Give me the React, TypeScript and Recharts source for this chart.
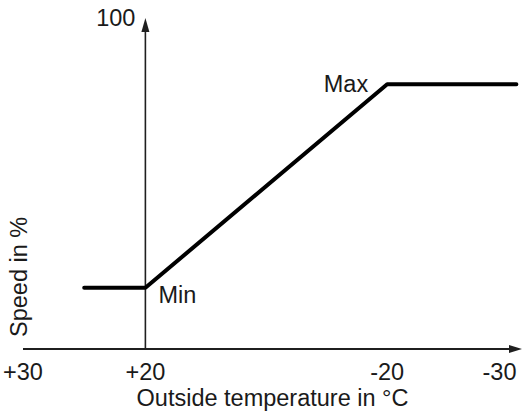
import React from 'react';
import { LineChart, Line, XAxis, YAxis, ReferenceLine, LabelList } from 'recharts';

// ---- data ----
const temperatures = [25, 20, -20, -31.5];
const speedPercent = [18.5, 18.5, 80, 80];
const pointLabels = ['', 'Min', 'Max', ''];
const tickTemps = [30, 20, -20, -30];
const tickLabels = ['+30', '+20', '-20', '-30'];
const speedTopLabel = '100';
const xTitle = 'Outside temperature in °C';
const yTitle = 'Speed in %';

// schematic (non‑proportional) spacing of the labelled temperatures along the axis
const axisKnotSpacing = [0, 122, 363, 475];

const data = temperatures.map((t, i) => ({ temp: t, speed: speedPercent[i], label: pointLabels[i] }));

const FONT = '"Liberation Sans", Arial, Helvetica, sans-serif';
const FS = 23.5;
const TEXT = '#1a1a1a';
const AXIS = '#1f1f1f';

function warp(t: number): number {
  const n = tickTemps.length;
  let i = 0;
  if (t >= tickTemps[0]) i = 0;
  else if (t <= tickTemps[n - 1]) i = n - 2;
  else {
    for (let k = 0; k < n - 1; k++) {
      if (t <= tickTemps[k] && t >= tickTemps[k + 1]) { i = k; break; }
    }
  }
  const t0 = tickTemps[i], t1 = tickTemps[i + 1];
  const u0 = axisKnotSpacing[i], u1 = axisKnotSpacing[i + 1];
  return u0 + ((t - t0) * (u1 - u0)) / (t1 - t0);
}

function makeScale(dom: number[] = [0, 1], rng: number[] = [0, 1]): any {
  const s: any = (v: any) => {
    const a = warp(Number(dom[0]));
    const b = warp(Number(dom[dom.length - 1]));
    if (a === b) return (rng[0] + rng[1]) / 2;
    return rng[0] + ((warp(Number(v)) - a) * (rng[1] - rng[0])) / (b - a);
  };
  s.domain = (d?: any[]) => {
    if (d === undefined) return dom.slice();
    dom = [Number(d[0]), Number(d[d.length - 1])];
    return s;
  };
  s.range = (r?: any[]) => {
    if (r === undefined) return rng.slice();
    rng = [Number(r[0]), Number(r[r.length - 1])];
    return s;
  };
  s.copy = () => makeScale(dom.slice(), rng.slice());
  s.ticks = () => tickTemps.slice();
  s.tickFormat = () => (v: any) => String(v);
  s.nice = () => s;
  s.clamp = () => s;
  s.unknown = () => s;
  return s;
}

const tempScale = makeScale();

const fmtTick = (v: number) => {
  const i = tickTemps.indexOf(v);
  return i >= 0 ? tickLabels[i] : String(v);
};

const HorizontalAxis = (p: any) => {
  const left = Math.min(p.x1, p.x2);
  const right = Math.max(p.x1, p.x2);
  const y = p.y1;
  return (
    <g>
      <line x1={left} y1={y} x2={right - 8} y2={y} stroke={AXIS} strokeWidth={2} />
      <polygon points={`${right},${y} ${right - 13},${y - 4} ${right - 13},${y + 4}`} fill={AXIS} />
    </g>
  );
};

const VerticalAxis = (p: any) => {
  const x = p.x1;
  const top = Math.min(p.y1, p.y2);
  const bottom = Math.max(p.y1, p.y2);
  return (
    <g>
      <line x1={x} y1={bottom} x2={x} y2={top + 8} stroke={AXIS} strokeWidth={1.6} />
      <polygon points={`${x},${top} ${x - 4},${top + 14} ${x + 4},${top + 14}`} fill={AXIS} />
      <text x={x - 10} y={top + 7.5} textAnchor="end" fontSize={FS} fill={TEXT} fontFamily={FONT}>
        {speedTopLabel}
      </text>
    </g>
  );
};

const SpeedTitle = (p: any) => {
  const vb = p.viewBox || {};
  const x = vb.x + vb.width + 4;
  const y = vb.y + vb.height - 12;
  return (
    <text x={x} y={y} transform={`rotate(-90 ${x} ${y})`} textAnchor="start" fontSize={FS} fill={TEXT} fontFamily={FONT}>
      {yTitle}
    </text>
  );
};

const PointLabel = (p: any) => {
  const value = p.value;
  if (!value) return null;
  const x = p.x ?? p.viewBox?.x;
  const y = p.y ?? p.viewBox?.y;
  if (p.index === 1) {
    return (
      <text x={x + 13} y={y + 15.5} textAnchor="start" fontSize={FS} fill={TEXT} fontFamily={FONT}>
        {value}
      </text>
    );
  }
  return (
    <text x={x - 19} y={y + 7.5} textAnchor="end" fontSize={FS} fill={TEXT} fontFamily={FONT}>
      {value}
    </text>
  );
};

export default function App() {
  return (
    <div style={{ position: 'absolute', left: 0, top: 0, width: 529, height: 417, background: '#fff', fontFamily: FONT }}>
      <LineChart width={529} height={417} data={data} margin={{ top: 18, right: 7, bottom: 8, left: 0 }}>
        <XAxis
          dataKey="temp"
          type="number"
          scale={tempScale}
          domain={[-32, 30]}
          reversed
          ticks={tickTemps}
          interval={0}
          tickFormatter={fmtTick}
          axisLine={false}
          tickLine={false}
          tickSize={6}
          tickMargin={8}
          height={60}
          tick={{ fill: TEXT, fontSize: FS, fontFamily: FONT }}
          label={{ value: xTitle, position: 'insideBottom', offset: 3, fill: TEXT, fontSize: FS, fontFamily: FONT }}
        />
        <YAxis
          type="number"
          domain={[0, 100]}
          width={23}
          axisLine={false}
          tickLine={false}
          tick={false}
          label={<SpeedTitle />}
        />
        <ReferenceLine y={0} shape={HorizontalAxis} />
        <ReferenceLine x={20} shape={VerticalAxis} />
        <Line
          type="linear"
          dataKey="speed"
          stroke="#000"
          strokeWidth={4}
          strokeLinecap="round"
          strokeLinejoin="round"
          dot={false}
          activeDot={false}
          isAnimationActive={false}
        >
          <LabelList dataKey="label" content={PointLabel} />
        </Line>
      </LineChart>
    </div>
  );
}
